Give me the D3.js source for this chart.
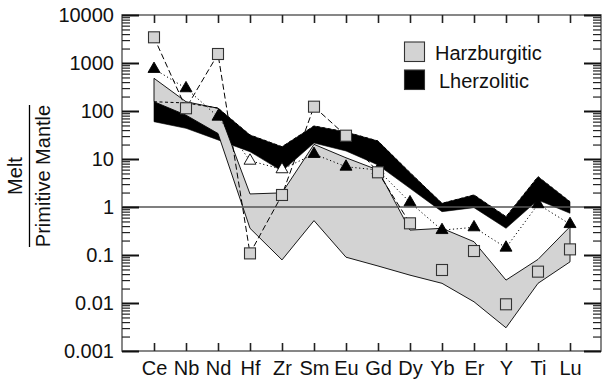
<!DOCTYPE html>
<html>
<head>
<meta charset="utf-8">
<script src="https://cdn.jsdelivr.net/npm/d3@7"></script>
<style>
  body { margin: 0; background: #fff; }
  svg { display: block; }
  text { font-family: "Liberation Sans", Arial, Helvetica, sans-serif; }
</style>
</head>
<body>
<svg id="chart" width="602" height="381"></svg>
<script>
// Elements on the x axis, in plotting order
const elements = ["Ce", "Nb", "Nd", "Hf", "Zr", "Sm", "Eu", "Gd", "Dy", "Yb", "Er", "Y", "Ti", "Lu"];

// Y axis decades and their labels
const yTickValues = [0.001, 0.01, 0.1, 1, 10, 100, 1000, 10000];
const yTickLabels = ["0.001", "0.01", "0.1", "1", "10", "100", "1000", "10000"];

// Harzburgitic melt field (upper / lower envelope)
const harzUpper = [480, 156, 114, 1.87, 1.97, 20.2, 10.6, 5.9, 0.33, 0.36, 0.189, 0.030, 0.081, 0.389];
const harzLower = [156, 82, 34, 0.36, 0.079, 0.52, 0.09, 0.059, 0.038, 0.0257, 0.0106, 0.00305, 0.0257, 0.072];

// Lherzolitic melt field (upper / lower envelope)
const lherzUpper = [156, 147, 115, 31.6, 18, 48.7, 36.5, 23.7, 5.2, 1.19, 1.78, 0.63, 4.28, 1.29];
const lherzLower = [59.8, 43.6, 25, 14.2, 5.6, 21.5, 14.7, 7.5, 2.45, 0.8, 0.97, 0.36, 1.4, 0.74];

// Individual melt compositions
const harzMelt = [3430, 114, 1540, 0.108, 1.78, 123, 30.6, 5.28, 0.457, 0.0487, 0.121, 0.0094, 0.045, 0.131];
const lherzMelt = [750, 297, 76, 9.2, 6.1, 12.7, 6.9, 5.9, 1.25, 0.33, 0.377, 0.142, 1.14, 0.44];

// Legend entries
const legendLabels = ["Harzburgitic", "Lherzolitic"];

const svg = d3.select("#chart");
const frame = { left: 122, right: 601, top: 15, bottom: 351 };

const x = d3.scalePoint().domain(elements).range([frame.left, frame.right + 1]).padding(1);
const y = d3.scaleLog().domain([0.001, 10000]).range([frame.bottom, frame.top]);

const GRAY = "#d3d3d3";
const INK = "#111";

// Minor ticks at 2..9 within each decade
const minorTicks = [];
for (let e = -3; e < 4; e++) {
  for (let k = 2; k <= 9; k++) minorTicks.push(k * Math.pow(10, e));
}

// ---- fields ----
function band(upper, lower) {
  return d3.area()
    .x((d, i) => x(elements[i]))
    .y0((d, i) => y(lower[i]))
    .y1((d, i) => y(upper[i]))(upper);
}

svg.append("path").attr("d", band(lherzUpper, lherzLower))
  .attr("fill", "#000").attr("stroke", "#000").attr("stroke-width", 0.6);

svg.append("path").attr("d", band(harzUpper, harzLower))
  .attr("fill", GRAY).attr("stroke", "#000").attr("stroke-width", 0.9)
  .attr("stroke-linejoin", "miter");

// upper edge of the lherzolitic field, visible where the harzburgitic field overlies it
const lineFrom = arr => d3.line().x((d, i) => x(elements[i])).y(d => y(d))(arr);
svg.append("path").attr("d", lineFrom(lherzUpper))
  .attr("fill", "none").attr("stroke", "#000").attr("stroke-width", 1)
  .attr("stroke-dasharray", "3,2.5");

// reference line at primitive mantle = 1
svg.append("line")
  .attr("x1", frame.left).attr("x2", frame.right)
  .attr("y1", y(1)).attr("y2", y(1))
  .attr("stroke", "#555").attr("stroke-width", 1.4);

// ---- sample traces ----
// lherzolitic melt: dotted trace through all elements
svg.append("path").attr("d", lineFrom(lherzMelt))
  .attr("fill", "none").attr("stroke", "#000").attr("stroke-width", 1)
  .attr("stroke-dasharray", "1.2,2.6");

// harzburgitic melt: dashed trace from Ce to Dy
const harzTrace = harzMelt.slice(0, elements.indexOf("Dy") + 1);
svg.append("path").attr("d", lineFrom(harzTrace))
  .attr("fill", "none").attr("stroke", "#000").attr("stroke-width", 1)
  .attr("stroke-dasharray", "6,3");

// triangles (open where they sit against the black field)
const openMarkers = new Set(["Hf", "Zr"]);
const tri = d3.symbol().type(d3.symbolTriangle).size(62);
svg.append("g").selectAll("path").data(lherzMelt).join("path")
  .attr("d", tri)
  .attr("transform", (d, i) => `translate(${x(elements[i])},${y(d)})`)
  .attr("fill", (d, i) => openMarkers.has(elements[i]) ? "#fff" : "#000")
  .attr("stroke", "#000").attr("stroke-width", 0.9);

// squares
const sq = 11;
svg.append("g").selectAll("rect").data(harzMelt).join("rect")
  .attr("x", (d, i) => x(elements[i]) - sq / 2)
  .attr("y", d => y(d) - sq / 2)
  .attr("width", sq).attr("height", sq)
  .attr("fill", GRAY).attr("stroke", "#333").attr("stroke-width", 1.1);

// ---- axes ----
function styleAxis(g, width, color) {
  g.select(".domain").remove();
  g.selectAll(".tick line").attr("stroke", color).attr("stroke-width", width);
}

// frame
svg.append("rect")
  .attr("x", frame.left).attr("y", frame.top)
  .attr("width", frame.right - frame.left).attr("height", frame.bottom - frame.top)
  .attr("fill", "none").attr("stroke", "#6a6a6a").attr("stroke-width", 1.6);

// left: major, minor ticks pointing inward
svg.append("g").attr("transform", `translate(${frame.left},0)`)
  .call(d3.axisRight(y).tickValues(minorTicks).tickSize(8).tickFormat(""))
  .call(g => styleAxis(g, 1.2, "#222"));
svg.append("g").attr("transform", `translate(${frame.left},0)`)
  .call(d3.axisRight(y).tickValues(yTickValues).tickSize(17).tickFormat(""))
  .call(g => styleAxis(g, 2, "#111"));

// right: mirrored ticks
svg.append("g").attr("transform", `translate(${frame.right},0)`)
  .call(d3.axisLeft(y).tickValues(minorTicks).tickSize(8).tickFormat(""))
  .call(g => styleAxis(g, 1.2, "#222"));
svg.append("g").attr("transform", `translate(${frame.right},0)`)
  .call(d3.axisLeft(y).tickValues(yTickValues).tickSize(17).tickFormat(""))
  .call(g => styleAxis(g, 2, "#111"));

// left labels
svg.append("g").attr("transform", `translate(${frame.left},0)`)
  .call(d3.axisLeft(y).tickValues(yTickValues).tickSize(0).tickPadding(8)
    .tickFormat((d, i) => yTickLabels[i]))
  .call(g => {
    g.select(".domain").remove();
    g.selectAll("text").attr("font-size", 20).attr("fill", INK)
      .attr("font-family", "'Liberation Sans', Arial, sans-serif");
  });

// bottom and top category ticks
svg.append("g").attr("transform", `translate(0,${frame.bottom})`)
  .call(d3.axisTop(x).tickSize(8).tickFormat(""))
  .call(g => styleAxis(g, 1.6, "#222"));
svg.append("g").attr("transform", `translate(0,${frame.top})`)
  .call(d3.axisBottom(x).tickSize(8).tickFormat(""))
  .call(g => styleAxis(g, 1.6, "#222"));

// bottom labels
svg.append("g").attr("transform", `translate(0,${frame.bottom})`)
  .call(d3.axisBottom(x).tickSize(0).tickPadding(9.3))
  .call(g => {
    g.select(".domain").remove();
    g.selectAll("text").attr("font-size", 20).attr("fill", INK)
      .attr("font-family", "'Liberation Sans', Arial, sans-serif");
  });

// y title: Melt over Primitive Mantle
const title = svg.append("g").attr("transform", "translate(0,176) rotate(-90)");
title.append("text").attr("x", 0).attr("y", 22).attr("text-anchor", "middle")
  .attr("font-size", 20).attr("fill", INK).text("Melt");
title.append("line").attr("x1", -71).attr("x2", 71).attr("y1", 29.5).attr("y2", 29.5)
  .attr("stroke", "#000").attr("stroke-width", 1.3);
title.append("text").attr("x", 0).attr("y", 50).attr("text-anchor", "middle")
  .attr("font-size", 20).attr("fill", INK).text("Primitive Mantle");

// legend
const legend = svg.append("g");
const legendFill = [GRAY, "#000"];
const legendRows = [42, 70];
legendLabels.forEach((lab, i) => {
  legend.append("rect").attr("x", 404.5).attr("y", legendRows[i])
    .attr("width", 20).attr("height", 19.5)
    .attr("fill", legendFill[i]).attr("stroke", "#333").attr("stroke-width", 1.1);
  legend.append("text").attr("x", i === 0 ? 435 : 439).attr("y", legendRows[i] + 18)
    .attr("font-size", 20).attr("fill", INK).text(lab);
});
</script>
</body>
</html>
